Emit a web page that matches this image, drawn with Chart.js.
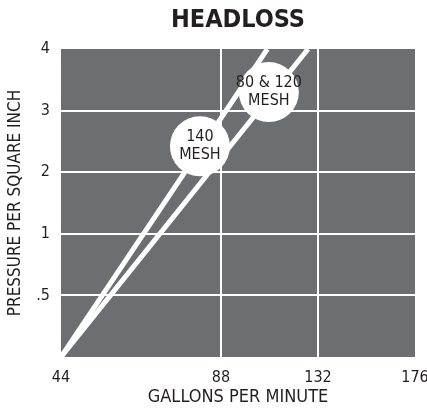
<!DOCTYPE html>
<html>
<head>
<meta charset="utf-8">
<script src="https://cdn.jsdelivr.net/npm/chart.js@4"></script>
<style>
  html, body { margin: 0; padding: 0; background: #fff; }
  #wrap { width: 427px; height: 411px; }
</style>
</head>
<body>
<div id="wrap"><canvas id="headloss"></canvas></div>
<script>
// gallons per minute along the bottom, psi up the side
const xTickValues = [44, 88, 132, 176];
const yTickValues = [0, 0.5, 1, 2, 3, 4];
const yTickLabels = ['', '.5', '1', '2', '3', '4'];

// each line runs from the origin to where it leaves the top of the grid
const mesh140Gpm = [44, 109];
const mesh140Psi = [0, 4];
const mesh80Gpm = [44, 127.5];
const mesh80Psi = [0, 4];

// the round tags sitting on the lines
const tagNames = [['140', 'MESH'], ['80 & 120', 'MESH']];
const tagGpm = [82.2, 109.7];
const tagPsi = [2.42, 3.3];

// the axes are not to scale: every psi step gets the same height, and the
// first gpm step is drawn wider than the others
const xStepWidths = [1.65, 1, 1];
const yStepWidths = [1, 1, 1, 1, 1];

const FONT = "'Liberation Sans Narrow', 'DejaVu Sans Condensed', 'Roboto', sans-serif";
const INK = '#231f20';
const PLOT_GREY = '#6d6e72';
const RIGHT_GAP = 12;

function toSlot(v, ticks, widths) {
    let pos = 0;
    for (let i = 0; i < ticks.length - 1; i++) {
        const a = ticks[i], b = ticks[i + 1];
        if (v <= b || i === ticks.length - 2) return pos + widths[i] * (v - a) / (b - a);
        pos += widths[i];
    }
}
const xs = v => toSlot(v, xTickValues, xStepWidths);
const ys = v => toSlot(v, yTickValues, yStepWidths);

function points(gpm, psi) {
    return gpm.map((g, i) => ({ x: xs(g), y: ys(psi[i]) }));
}

const xMax = xs(xTickValues[xTickValues.length - 1]);
const yMax = ys(yTickValues[yTickValues.length - 1]);

function edgeGrid(max) {
    return ctx => (ctx.tick && (ctx.tick.value <= 0.0001 || ctx.tick.value >= max - 0.0001)) ? 'rgba(0,0,0,0)' : '#ffffff';
}

// fixed axis sizes so the grey plot sits where it does in the print
function fixSize(prop, size) {
    return s => {
        s[prop] = size;
        s.paddingLeft = 0;
        s.paddingRight = 0;
        s.paddingTop = 0;
        s.paddingBottom = 0;
    };
}

// the layout keeps leaving a wide gap on the right, so pull the plot out to the edge
const stretchRight = {
    id: 'stretchRight',
    afterLayout(chart) {
        const right = chart.width - RIGHT_GAP;
        const a = chart.chartArea;
        a.right = right;
        a.width = right - a.left;
        ['x', 'head'].forEach(id => {
            const s = chart.scales[id];
            s.right = right;
            s.width = right - s.left;
            s.configure();
        });
    }
};

const plotBackground = {
    id: 'plotBackground',
    beforeDraw(chart) {
        const { ctx, chartArea: a } = chart;
        ctx.save();
        ctx.fillStyle = PLOT_GREY;
        ctx.fillRect(a.left, a.top, a.right - a.left, a.bottom - a.top);
        ctx.restore();
    }
};

const tagText = {
    id: 'tagText',
    afterDatasetsDraw(chart) {
        const { ctx, scales } = chart;
        ctx.save();
        ctx.fillStyle = INK;
        ctx.font = '16px ' + FONT;
        ctx.textAlign = 'center';
        ctx.textBaseline = 'middle';
        tagNames.forEach((lines, i) => {
            const cx = scales.x.getPixelForValue(xs(tagGpm[i]));
            const cy = scales.y.getPixelForValue(ys(tagPsi[i]));
            ctx.fillText(lines[0], cx, cy - 9);
            ctx.fillText(lines[1], cx, cy + 9);
        });
        ctx.restore();
    }
};

new Chart(document.getElementById('headloss'), {
    type: 'line',
    data: {
        datasets: [
            {
                type: 'scatter',
                label: 'tags',
                data: points(tagGpm, tagPsi),
                pointRadius: 30,
                pointHoverRadius: 30,
                pointBackgroundColor: '#ffffff',
                pointBorderWidth: 0,
                order: 0
            },
            {
                label: '140 MESH',
                data: points(mesh140Gpm, mesh140Psi),
                borderColor: '#ffffff',
                borderWidth: 5,
                pointRadius: 0,
                clip: 0,
                order: 1
            },
            {
                label: '80 & 120 MESH',
                data: points(mesh80Gpm, mesh80Psi),
                borderColor: '#ffffff',
                borderWidth: 5,
                pointRadius: 0,
                clip: 0,
                order: 1
            }
        ]
    },
    options: {
        responsive: true,
        maintainAspectRatio: false,
        animation: false,
        layout: { padding: { left: 0, right: RIGHT_GAP, top: 0, bottom: 0 } },
        plugins: {
            legend: { display: false },
            tooltip: { enabled: false }
        },
        scales: {
            x: {
                type: 'linear',
                min: 0,
                max: xMax,
                afterBuildTicks: s => { s.ticks = xTickValues.map(v => ({ value: xs(v) })); },
                afterFit: fixSize('height', 54),
                ticks: {
                    callback: (v, i) => String(xTickValues[i]),
                    color: INK,
                    font: { family: FONT, size: 16 },
                    padding: 11,
                    maxRotation: 0,
                    minRotation: 0
                },
                grid: { color: edgeGrid(xMax), lineWidth: 2, drawTicks: false },
                border: { display: false },
                title: {
                    display: true,
                    text: 'GALLONS PER MINUTE',
                    color: INK,
                    font: { family: FONT, size: 18 },
                    padding: { top: 0, bottom: 3 }
                }
            },
            head: {
                type: 'linear',
                axis: 'x',
                position: 'top',
                min: 0,
                max: xMax,
                afterFit: fixSize('height', 49),
                ticks: { display: false },
                grid: { display: false, drawTicks: false },
                border: { display: false },
                title: {
                    display: true,
                    text: 'HEADLOSS',
                    color: INK,
                    font: { family: FONT, size: 25, weight: 'bold' },
                    padding: { top: 5, bottom: 0 }
                }
            },
            y: {
                type: 'linear',
                min: 0,
                max: yMax,
                afterBuildTicks: s => { s.ticks = yTickValues.map(v => ({ value: ys(v) })); },
                afterFit: fixSize('width', 61),
                ticks: {
                    callback: (v, i) => yTickLabels[i],
                    color: INK,
                    font: { family: FONT, size: 16 },
                    padding: 11
                },
                grid: { color: edgeGrid(yMax), lineWidth: 2, drawTicks: false },
                border: { display: false },
                title: {
                    display: true,
                    text: 'PRESSURE PER SQUARE INCH',
                    color: INK,
                    font: { family: FONT, size: 17 },
                    padding: { top: 5, bottom: 0 }
                }
            }
        }
    },
    plugins: [stretchRight, plotBackground, tagText]
});
</script>
</body>
</html>
